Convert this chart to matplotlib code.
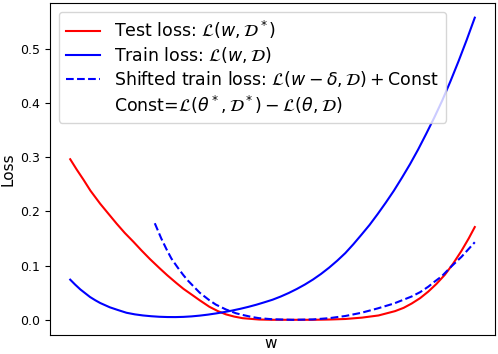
import matplotlib
matplotlib.use("Agg")
import matplotlib.pyplot as plt

# values (w scaled to 0..1)
w_test = [0.0, 0.016, 0.033, 0.05, 0.074, 0.095, 0.115, 0.135, 0.156, 0.176, 0.197,
          0.221, 0.240, 0.262, 0.28, 0.303, 0.320, 0.344, 0.365, 0.385, 0.405, 0.426,
          0.45, 0.467, 0.50, 0.55, 0.60, 0.64, 0.68, 0.721, 0.762, 0.803, 0.824,
          0.844, 0.865, 0.885, 0.905, 0.926, 0.946, 0.967, 0.985, 1.0]
test_loss = [0.296, 0.277, 0.258, 0.238, 0.214, 0.195, 0.177, 0.160, 0.144, 0.128, 0.112,
             0.095, 0.082, 0.068, 0.057, 0.045, 0.036, 0.024, 0.016, 0.010, 0.006, 0.003,
             0.0015, 0.0005, 0.0, 0.0, 0.0, 0.0005, 0.0015, 0.004, 0.008, 0.016, 0.022,
             0.030, 0.040, 0.052, 0.066, 0.083, 0.103, 0.127, 0.150, 0.171]

w_train = [0.0, 0.012, 0.025, 0.037, 0.049, 0.062, 0.074, 0.086, 0.098, 0.118, 0.139,
           0.16, 0.180, 0.2, 0.22, 0.24, 0.26, 0.28, 0.30, 0.32, 0.34, 0.36,
           0.38, 0.40, 0.42, 0.44, 0.46, 0.48, 0.50, 0.52, 0.54, 0.56, 0.58,
           0.60, 0.62, 0.64, 0.66, 0.68, 0.70, 0.72, 0.74, 0.76, 0.78, 0.80, 0.82,
           0.84, 0.86, 0.88, 0.90, 0.92, 0.94, 0.96, 0.98, 1.0]
train_loss = [0.074, 0.065, 0.056, 0.049, 0.042, 0.036, 0.031, 0.027, 0.023, 0.018, 0.013,
              0.010, 0.008, 0.0066, 0.0056, 0.0051, 0.005, 0.0054, 0.0063, 0.0077, 0.0095, 0.0117,
              0.0142, 0.017, 0.0202, 0.0238, 0.0278, 0.0323, 0.037, 0.0428, 0.0494, 0.0568, 0.065,
              0.0742, 0.0846, 0.0962, 0.109, 0.123, 0.1394, 0.157, 0.175, 0.195, 0.216, 0.238,
              0.262, 0.287, 0.314, 0.343, 0.373, 0.405, 0.440, 0.477, 0.516, 0.557]

w_shift = [0.209, 0.225, 0.238, 0.250, 0.265, 0.279, 0.29, 0.303, 0.320, 0.344, 0.36,
           0.385, 0.41, 0.426, 0.45, 0.467, 0.50, 0.55, 0.60, 0.64, 0.68, 0.72, 0.76,
           0.80, 0.844, 0.865, 0.885, 0.90, 0.918, 0.943, 0.967, 1.0]
shift_loss = [0.178, 0.150, 0.130, 0.113, 0.097, 0.083, 0.073, 0.063, 0.050, 0.036, 0.028,
              0.019, 0.012, 0.009, 0.005, 0.003, 0.001, 0.0, 0.0007, 0.003, 0.007, 0.013, 0.021,
              0.030, 0.043, 0.051, 0.061, 0.070, 0.080, 0.099, 0.116, 0.143]

fig = plt.figure(figsize=(4.98, 3.54), dpi=100)
ax = fig.add_axes([0.1004, 0.0537, 0.8936, 0.9378])

ax.plot(w_test, test_loss, color="red", lw=1.5, label=r"Test loss: $\mathcal{L}(w,\mathcal{D}^*)$")
ax.plot(w_train, train_loss, color="blue", lw=1.5, label=r"Train loss: $\mathcal{L}(w,\mathcal{D})$")
ax.plot(w_shift, shift_loss, color="blue", lw=1.5, ls="--",
        label=r"Shifted train loss: $\mathcal{L}(w-\delta,\mathcal{D})+$Const")
ax.plot([], [], color="none",
        label=r"Const=$\mathcal{L}(\theta^*,\mathcal{D}^*)-\mathcal{L}(\theta,\mathcal{D})$")

ax.set_ylim(-0.028, 0.584)
ax.set_xticks([])
ax.set_yticks([0.0, 0.1, 0.2, 0.3, 0.4, 0.5])
ax.tick_params(labelsize=9)
ax.set_xlabel("w", fontsize=11)
ax.set_ylabel("Loss", fontsize=11)
ax.xaxis.set_label_coords(0.495, -0.004)
ax.yaxis.set_label_coords(-0.078, 0.5)
ax.legend(loc="upper left", fontsize=12.5, handlelength=2.0, labelspacing=0.25)

plt.savefig("out.png", dpi=100)
